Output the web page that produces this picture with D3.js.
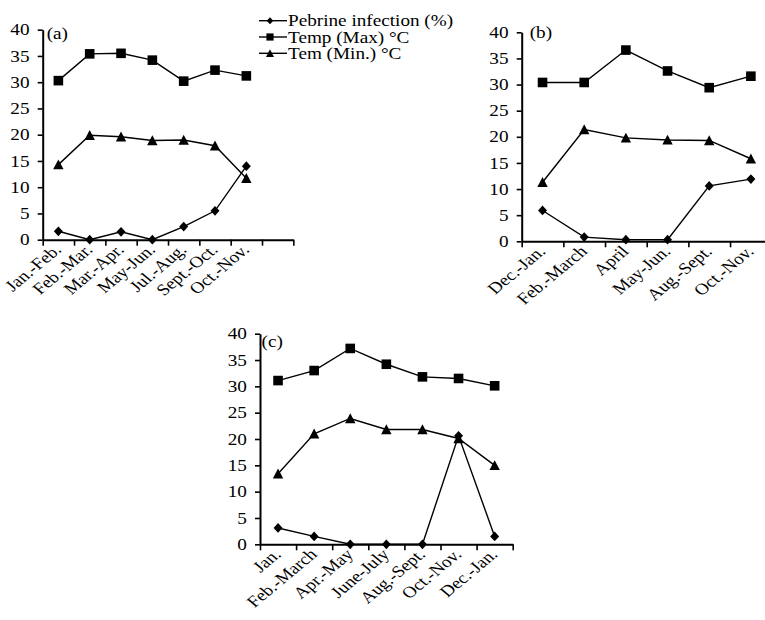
<!DOCTYPE html>
<html>
<head>
<meta charset="utf-8">
<script src="https://cdn.jsdelivr.net/npm/d3@7"></script>
<style>
  body { margin: 0; background: #fff; }
  svg text { font-family: "Liberation Serif", "Times New Roman", serif; fill: #000; }
</style>
</head>
<body>
<svg id="chart" width="765" height="620"></svg>
<script>
// Panel (a)
const catsA = ['Jan.-Feb.', 'Feb.-Mar.', 'Mar.-Apr.', 'May-Jun.', 'Jul.-Aug.', 'Sept.-Oct.', 'Oct.-Nov.', ''];
const pebrineA = [1.6, 0, 1.5, 0, 2.5, 5.5, 14];
const tmaxA = [30.3, 35.4, 35.5, 34.2, 30.2, 32.3, 31.2];
const tminA = [14.3, 19.9, 19.6, 18.9, 19.0, 17.9, 11.7];

// Panel (b)
const catsB = ['Dec.-Jan.', 'Feb.-March', 'April', 'May-Jun.', 'Aug.-Sept.', 'Oct.-Nov.'];
const pebrineB = [5.9, 0.8, 0.3, 0.3, 10.6, 11.9];
const tmaxB = [30.4, 30.4, 36.6, 32.6, 29.4, 31.6];
const tminB = [11.3, 21.4, 19.8, 19.4, 19.3, 15.8];

// Panel (c)
const catsC = ['Jan.', 'Feb.-March', 'Apr.-May', 'June-July', 'Aug.-Sept.', 'Oct.-Nov.', 'Dec.-Jan.'];
const pebrineC = [3.1, 1.5, 0, 0, 0, 20.6, 1.5];
const tmaxC = [31.1, 33.0, 37.2, 34.2, 31.8, 31.5, 30.1];
const tminC = [13.4, 21.0, 23.9, 21.8, 21.8, 20.1, 15.0];

const yTicks = [0, 5, 10, 15, 20, 25, 30, 35, 40];
const seriesNames = ['Pebrine infection (%)', 'Temp (Max) °C', 'Tem (Min.) °C'];

// the source figure is stretched sideways, so text is too
const STRETCH = 1.2;
const FONT = '16px';

// diamond that is a little wider than d3's own
const diamondWide = {
  draw(ctx, r) {
    ctx.moveTo(0, -r * 1.08);
    ctx.lineTo(r, 0);
    ctx.lineTo(0, r * 1.08);
    ctx.lineTo(-r, 0);
    ctx.closePath();
  }
};
const squareBox = {
  draw(ctx, r) {
    ctx.rect(-r, -r, 2 * r, 2 * r);
  }
};
const triangleUp = {
  draw(ctx, r) {
    const h = r * 1.8;
    ctx.moveTo(0, -h / 2 - 0.5);
    ctx.lineTo(r, h / 2);
    ctx.lineTo(-r, h / 2);
    ctx.closePath();
  }
};
const SYMBOLS = [diamondWide, squareBox, triangleUp];
const BIG = [4.5, 4.8, 5.2];
const SMALL = [3.3, 3.6, 4];

const svg = d3.select('#chart');

function drawPanel(opt) {
  const { cats, series, left, bandW, top, bottom, tag } = opt;
  const n = cats.length;
  const x = d3.scaleBand().domain(d3.range(n)).range([left, left + bandW * n]).padding(0);
  const xb = d3.scaleLinear().domain([0, n]).range([left, left + bandW * n]);
  const y = d3.scaleLinear().domain([0, 40]).range([bottom, top]);
  const g = svg.append('g');

  // y axis
  const ya = g.append('g')
    .attr('transform', `translate(${left},0)`)
    .call(d3.axisLeft(y).tickValues(yTicks).tickSize(5).tickSizeOuter(0).tickPadding(6));
  ya.select('.domain').attr('stroke-width', 2);
  ya.selectAll('.tick line').attr('stroke-width', 1.6);
  ya.selectAll('.tick text')
    .attr('font-family', null)
    .attr('transform', `scale(${STRETCH},1)`)
    .style('font-size', FONT);

  // x axis: ticks at category boundaries
  const xa = g.append('g')
    .attr('transform', `translate(0,${bottom})`)
    .call(d3.axisBottom(xb).tickValues(d3.range(n + 1)).tickSize(6).tickSizeOuter(0).tickFormat(''));
  xa.select('.domain').attr('stroke-width', 2);
  xa.selectAll('.tick line').attr('stroke-width', 1.6);

  // rotated category labels
  g.selectAll('text.cat')
    .data(cats)
    .join('text')
    .attr('class', 'cat')
    .attr('text-anchor', 'end')
    .style('font-size', FONT)
    .attr('transform', (d, i) =>
      `translate(${x(i) + bandW / 2 + 4},${bottom + 11}) scale(${STRETCH},1) rotate(-45)`)
    .text((d) => d);

  // series lines and markers
  const line = d3.line()
    .x((d, i) => x(i) + bandW / 2)
    .y((d) => y(d));

  series.forEach((vals, s) => {
    g.append('path')
      .datum(vals)
      .attr('fill', 'none')
      .attr('stroke', '#000')
      .attr('stroke-width', 1.4)
      .attr('d', line);

    g.selectAll(`path.m${s}`)
      .data(vals)
      .join('path')
      .attr('class', `m${s}`)
      .attr('fill', '#000')
      .attr('transform', (d, i) => `translate(${x(i) + bandW / 2},${y(d)})`)
      .attr('d', d3.symbol(SYMBOLS[s], BIG[s]));
  });

  g.append('text')
    .attr('transform', `translate(${left + tag.dx},${top + tag.dy}) scale(${STRETCH},1)`)
    .style('font-size', FONT)
    .text(tag.text);
}

drawPanel({
  cats: catsA, series: [pebrineA, tmaxA, tminA],
  left: 42.7, bandW: 31.33, top: 29.7, bottom: 239.7,
  tag: { text: '(a)', dx: 4, dy: 9 }
});
drawPanel({
  cats: catsB, series: [pebrineB, tmaxB, tminB],
  left: 521.7, bandW: 41.67, top: 32.3, bottom: 241.3,
  tag: { text: '(b)', dx: 8, dy: 6 }
});
drawPanel({
  cats: catsC, series: [pebrineC, tmaxC, tminC],
  left: 260, bandW: 36.1, top: 333.7, bottom: 544.3,
  tag: { text: '(c)', dx: 1.5, dy: 13 }
});

// legend
const legend = svg.append('g').attr('transform', 'translate(259,20.7)');
const rows = legend.selectAll('g')
  .data(seriesNames)
  .join('g')
  .attr('transform', (d, i) => `translate(0,${i * 16.3})`);
rows.append('line')
  .attr('x1', 0).attr('x2', 28)
  .attr('stroke', '#000').attr('stroke-width', 1.4);
rows.append('path')
  .attr('transform', 'translate(11,0)')
  .attr('d', (d, i) => d3.symbol(SYMBOLS[i], SMALL[i])());
rows.append('text')
  .attr('transform', `translate(29,5.5) scale(${STRETCH},1)`)
  .style('font-size', FONT)
  .text((d) => d);
</script>
</body>
</html>
